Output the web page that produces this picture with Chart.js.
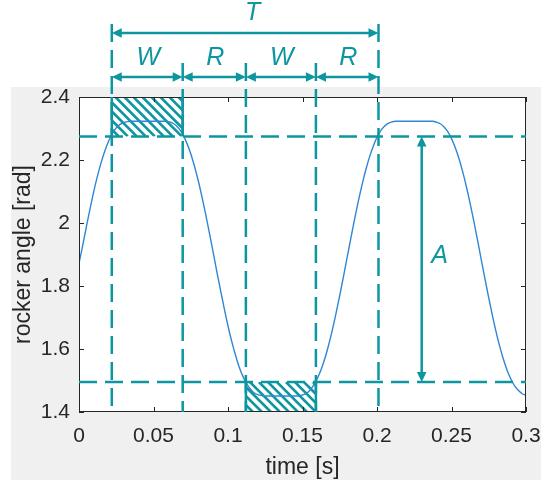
<!DOCTYPE html>
<html>
<head>
<meta charset="utf-8">
<script src="https://cdn.jsdelivr.net/npm/chart.js@4"></script>
<style>
  html, body { margin: 0; padding: 0; background: #ffffff; }
  #wrap { width: 541px; height: 484px; position: relative; }
</style>
</head>
<body>
<div id="wrap"><canvas id="c"></canvas></div>
<script>
// Rocker angle over one and a half work/return cycles
const timeS = [
  0.0000, 0.0025, 0.0050, 0.0075, 0.0100, 0.0125, 0.0150, 0.0175, 0.0200, 0.0225,
  0.0250, 0.0275, 0.0300, 0.0325, 0.0350, 0.0375, 0.0400, 0.0425, 0.0450, 0.0475,
  0.0500, 0.0525, 0.0550, 0.0575, 0.0600, 0.0625, 0.0650, 0.0675, 0.0700, 0.0725,
  0.0750, 0.0775, 0.0800, 0.0825, 0.0850, 0.0875, 0.0900, 0.0925, 0.0950, 0.0975,
  0.1000, 0.1025, 0.1050, 0.1075, 0.1100, 0.1125, 0.1150, 0.1175, 0.1200, 0.1225,
  0.1250, 0.1275, 0.1300, 0.1325, 0.1350, 0.1375, 0.1400, 0.1425, 0.1450, 0.1475,
  0.1500, 0.1525, 0.1550, 0.1575, 0.1600, 0.1625, 0.1650, 0.1675, 0.1700, 0.1725,
  0.1750, 0.1775, 0.1800, 0.1825, 0.1850, 0.1875, 0.1900, 0.1925, 0.1950, 0.1975,
  0.2000, 0.2025, 0.2050, 0.2075, 0.2100, 0.2125, 0.2150, 0.2175, 0.2200, 0.2225,
  0.2250, 0.2275, 0.2300, 0.2325, 0.2350, 0.2375, 0.2400, 0.2425, 0.2450, 0.2475,
  0.2500, 0.2525, 0.2550, 0.2575, 0.2600, 0.2625, 0.2650, 0.2675, 0.2700, 0.2725,
  0.2750, 0.2775, 0.2800, 0.2825, 0.2850, 0.2875, 0.2900, 0.2925, 0.2950, 0.2975,
  0.3000
];
const rockerAngle = [
  1.872, 1.929, 1.989, 2.047, 2.102, 2.151, 2.194, 2.231, 2.261, 2.285,
  2.302, 2.313, 2.319, 2.322, 2.323, 2.323, 2.323, 2.323, 2.323, 2.323,
  2.323, 2.323, 2.323, 2.323, 2.322, 2.318, 2.310, 2.297, 2.278, 2.252,
  2.220, 2.180, 2.135, 2.084, 2.028, 1.969, 1.908, 1.846, 1.786, 1.728,
  1.673, 1.624, 1.581, 1.543, 1.513, 1.490, 1.473, 1.461, 1.455, 1.452,
  1.451, 1.451, 1.451, 1.451, 1.451, 1.451, 1.451, 1.451, 1.451, 1.451,
  1.454, 1.459, 1.469, 1.485, 1.507, 1.535, 1.570, 1.612, 1.660, 1.713,
  1.770, 1.830, 1.892, 1.953, 2.013, 2.070, 2.122, 2.169, 2.210, 2.244,
  2.272, 2.293, 2.307, 2.316, 2.321, 2.323, 2.323, 2.323, 2.323, 2.323,
  2.323, 2.323, 2.323, 2.323, 2.323, 2.323, 2.320, 2.315, 2.305, 2.290,
  2.268, 2.240, 2.205, 2.163, 2.115, 2.062, 2.005, 1.945, 1.883, 1.822,
  1.762, 1.705, 1.653, 1.606, 1.565, 1.530, 1.503, 1.482, 1.468, 1.458,
  1.453
];

const xTicks = [0, 0.05, 0.1, 0.15, 0.2, 0.25, 0.3];
const yTicks = [1.4, 1.6, 1.8, 2, 2.2, 2.4];

// Phase boundaries (work / return) and the two threshold levels
const phaseBounds = [0.022, 0.0696, 0.112, 0.159, 0.201];
const phaseNames = ['W', 'R', 'W', 'R'];
const levelHigh = 2.275;
const levelLow = 1.495;
const periodName = 'T';
const periodLabelX = 0.1165;
const ampName = 'A';
const ampArrowX = 0.23;

const TEAL = '#0e96a0';
const LINE = '#3086d4';
const AXIS = '#262626';
const FONT = "'Liberation Sans', Arial, Helvetica, sans-serif";

function arrowHead(ctx, x, y, dx, dy) {
  const L = 10, W = 4.8;
  ctx.beginPath();
  ctx.moveTo(x, y);
  ctx.lineTo(x - dx * L - dy * W, y - dy * L + dx * W);
  ctx.lineTo(x - dx * L + dy * W, y - dy * L - dx * W);
  ctx.closePath();
  ctx.fill();
}
function doubleArrow(ctx, x1, y1, x2, y2) {
  const len = Math.hypot(x2 - x1, y2 - y1);
  const dx = (x2 - x1) / len, dy = (y2 - y1) / len;
  ctx.setLineDash([]);
  ctx.beginPath();
  ctx.moveTo(x1 + dx * 6, y1 + dy * 6);
  ctx.lineTo(x2 - dx * 6, y2 - dy * 6);
  ctx.stroke();
  arrowHead(ctx, x2, y2, dx, dy);
  arrowHead(ctx, x1, y1, -dx, -dy);
}
function hatch(ctx, x1, y1, x2, y2) {
  ctx.save();
  ctx.beginPath();
  ctx.rect(x1, y1, x2 - x1, y2 - y1);
  ctx.clip();
  ctx.strokeStyle = TEAL;
  ctx.lineWidth = 2.6;
  const h = y2 - y1;
  for (let x = x1 - h - 2; x < x2 + 9; x += 9) {
    ctx.beginPath();
    ctx.moveTo(x, y1);
    ctx.lineTo(x + h, y2);
    ctx.stroke();
  }
  ctx.restore();
}

const figurePlugin = {
  id: 'figure',
  beforeDraw(chart) {
    const { ctx, chartArea: a } = chart;
    ctx.save();
    ctx.fillStyle = '#ffffff';
    ctx.fillRect(0, 0, chart.width, chart.height);
    ctx.fillStyle = '#f0f0f0';
    ctx.fillRect(11, 87, chart.width - 11, 393);
    ctx.fillStyle = '#ffffff';
    ctx.fillRect(a.left, a.top, a.right - a.left, a.bottom - a.top);
    ctx.restore();
  },
  beforeDatasetsDraw(chart) {
    const { ctx, scales: { x, y } } = chart;
    hatch(ctx, x.getPixelForValue(phaseBounds[0]), y.getPixelForValue(2.4),
               x.getPixelForValue(phaseBounds[1]), y.getPixelForValue(levelHigh));
    hatch(ctx, x.getPixelForValue(phaseBounds[2]), y.getPixelForValue(levelLow),
               x.getPixelForValue(phaseBounds[3]), y.getPixelForValue(1.4));
  },
  afterDatasetsDraw(chart) {
    const { ctx, chartArea: a, scales: { x, y } } = chart;
    ctx.save();

    // axes box with inward ticks
    ctx.strokeStyle = AXIS;
    ctx.lineWidth = 1;
    ctx.strokeRect(a.left + 0.5, a.top + 0.5, a.right - a.left - 1, a.bottom - a.top - 1);
    ctx.beginPath();
    xTicks.forEach(v => {
      const px = Math.round(x.getPixelForValue(v)) + 0.5;
      ctx.moveTo(px, a.bottom); ctx.lineTo(px, a.bottom - 5);
      ctx.moveTo(px, a.top); ctx.lineTo(px, a.top + 5);
    });
    yTicks.forEach(v => {
      const py = Math.round(y.getPixelForValue(v)) + 0.5;
      ctx.moveTo(a.left, py); ctx.lineTo(a.left + 5, py);
      ctx.moveTo(a.right, py); ctx.lineTo(a.right - 5, py);
    });
    ctx.stroke();

    ctx.strokeStyle = TEAL;
    ctx.fillStyle = TEAL;
    ctx.lineWidth = 2.5;

    // threshold levels
    ctx.setLineDash([18, 8]);
    [levelHigh, levelLow].forEach(v => {
      const py = y.getPixelForValue(v);
      ctx.beginPath();
      ctx.moveTo(a.left, py);
      ctx.lineTo(a.right, py);
      ctx.stroke();
    });

    // phase boundaries
    const last = phaseBounds.length - 1;
    phaseBounds.forEach((v, i) => {
      const px = x.getPixelForValue(v);
      const topY = (i === 0 || i === last) ? a.top - 73 : a.top - 34;
      ctx.setLineDash([18, 8]);
      ctx.beginPath();
      ctx.moveTo(px, topY);
      ctx.lineTo(px, a.bottom);
      ctx.stroke();
    });
    // solid sides of the hatched windows
    ctx.setLineDash([]);
    const sides = [
      [phaseBounds[0], 2.4, levelHigh], [phaseBounds[1], 2.4, levelHigh],
      [phaseBounds[2], levelLow, 1.4], [phaseBounds[3], levelLow, 1.4]
    ];
    sides.forEach(([v, y1, y2]) => {
      const px = x.getPixelForValue(v);
      ctx.beginPath();
      ctx.moveTo(px, y.getPixelForValue(y1));
      ctx.lineTo(px, y.getPixelForValue(y2));
      ctx.stroke();
    });

    // period arrow and phase arrows
    doubleArrow(ctx, x.getPixelForValue(phaseBounds[0]), a.top - 64,
                     x.getPixelForValue(phaseBounds[last]), a.top - 64);
    for (let i = 0; i < last; i++) {
      doubleArrow(ctx, x.getPixelForValue(phaseBounds[i]), a.top - 20,
                       x.getPixelForValue(phaseBounds[i + 1]), a.top - 20);
    }
    // amplitude arrow
    const ax = x.getPixelForValue(ampArrowX);
    doubleArrow(ctx, ax, y.getPixelForValue(levelHigh), ax, y.getPixelForValue(levelLow));

    // labels
    ctx.font = 'italic 25px ' + FONT;
    ctx.textAlign = 'center';
    ctx.textBaseline = 'middle';
    ctx.fillText(periodName, x.getPixelForValue(periodLabelX), a.top - 84);
    for (let i = 0; i < last; i++) {
      const mid = (phaseBounds[i] + phaseBounds[i + 1]) / 2;
      ctx.fillText(phaseNames[i], x.getPixelForValue(mid) + 1, a.top - 39);
    }
    ctx.fillText(ampName, ax + 18, y.getPixelForValue((levelHigh + levelLow) / 2) - 3);

    ctx.restore();
  }
};

new Chart(document.getElementById('c'), {
  type: 'line',
  data: {
    datasets: [{
      data: timeS.map((t, i) => ({ x: t, y: rockerAngle[i] })),
      borderColor: LINE,
      borderWidth: 1.4,
      pointRadius: 0,
      fill: false,
      cubicInterpolationMode: 'monotone'
    }]
  },
  options: {
    responsive: true,
    maintainAspectRatio: false,
    animation: false,
    events: [],
    layout: { padding: { top: 97, right: 15, bottom: 0, left: 0 } },
    plugins: { legend: { display: false }, tooltip: { enabled: false } },
    scales: {
      x: {
        type: 'linear',
        min: 0, max: 0.3,
        grid: { display: false, drawTicks: false },
        border: { display: false },
        afterBuildTicks: s => { s.ticks = xTicks.map(v => ({ value: v })); },
        afterFit: s => { s.height = 72; s.paddingLeft = 0; s.paddingRight = 0; },
        ticks: {
          color: AXIS, padding: 12, maxRotation: 0, autoSkip: false,
          font: { family: FONT, size: 21 },
          callback: v => String(+v.toFixed(3))
        },
        title: {
          display: true, text: 'time [s]', color: AXIS,
          font: { family: FONT, size: 23 }, padding: { top: 0, bottom: 3 }
        }
      },
      y: {
        type: 'linear',
        min: 1.4, max: 2.4,
        grid: { display: false, drawTicks: false },
        border: { display: false },
        afterBuildTicks: s => { s.ticks = yTicks.map(v => ({ value: v })); },
        afterFit: s => { s.width = 79; s.paddingTop = 0; s.paddingBottom = 0; },
        ticks: {
          color: AXIS, padding: 9, autoSkip: false,
          font: { family: FONT, size: 21 },
          callback: v => String(+v.toFixed(2))
        },
        title: {
          display: true, text: 'rocker angle [rad]', color: AXIS,
          font: { family: FONT, size: 23 }, padding: { top: 10, bottom: 0 }
        }
      }
    }
  },
  plugins: [figurePlugin]
});
</script>
</body>
</html>
